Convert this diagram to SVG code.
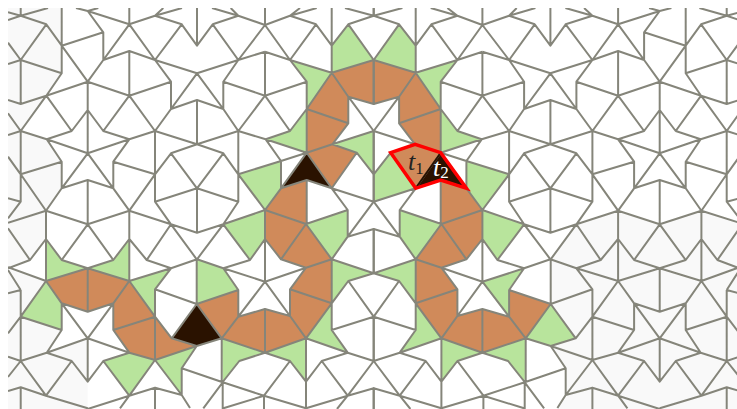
<svg xmlns="http://www.w3.org/2000/svg" xmlns:xlink="http://www.w3.org/1999/xlink" width="737" height="409" viewBox="0 0 737 409">
<style>
.g{fill:#b8e49c}.o{fill:#d08a5a}.k{fill:#2a1200}.s{fill:#f9f9f9}
.e{fill:none;stroke:#85857a;stroke-width:2;stroke-linejoin:round}
.t{font-family:"Liberation Serif",serif;font-style:italic;font-size:26px}
.n{font-family:"Liberation Serif",serif;font-size:17px}
</style>
<defs>
<clipPath id="c"><rect x="8" y="8" width="729" height="401"/></clipPath>
<g id="sym">
<polygon class="g" points="290,60 331.7,72.7 306.7,109 306.7,81.7"/>
<polygon class="g" points="373.7,60 331.7,72.7 331.7,45.7 348.3,24.3"/>
<polygon class="g" points="265.7,139.3 290,131 306.7,109 306.7,152.7"/>
<polygon class="g" points="238.3,174.3 281,161 281,188.3 265,210"/>
<polygon class="g" points="223.3,224.3 265,210 265,239 250,260"/>
<polygon class="g" points="306,224 347.7,210 347.7,236.7 331.7,259.3"/>
<polygon class="g" points="331.7,259.3 373.7,273.3 348.3,281 331.7,303.3"/>
<polygon class="g" points="331.7,303.3 331.7,330 347.7,352.7 306,338.3"/>
<polygon class="g" points="265,352.7 306,338.3 306,381.7 290,361"/>
<polygon class="g" points="221.7,338.3 265,352.7 239.3,361 222.7,382"/>
<polygon class="o" points="331.7,72.7 373.7,60 373.7,104 348.3,96.7"/>
<polygon class="o" points="331.7,72.7 348.3,96.7 348.3,123.3 306.7,109"/>
<polygon class="o" points="306.7,109 348.3,123.3 332.3,144.3 306.7,152.7"/>
<polygon class="o" points="306.7,152.7 332.3,144.3 356.7,152.7 331.7,188.3"/>
<polygon class="o" points="281,188.3 306.7,180 306.3,224 265,210"/>
<polygon class="o" points="265,210 306,224 281,259.3 265,239"/>
<polygon class="o" points="306,224 331.7,259.3 306,267.7 281,259.3"/>
<polygon class="o" points="331.7,259.3 331.7,303.3 290,289.3 306,267.7"/>
<polygon class="o" points="331.7,303.3 306,338.3 290,316 290,289.3"/>
<polygon class="o" points="306,338.3 265,352.7 265,309 290,316"/>
<polygon class="o" points="221.7,338.3 238.3,316.7 265,309 265,352.7"/>
<polygon class="o" points="196.7,304 238.3,290 238.3,316.7 221.7,338.3"/>
<polygon class="k" points="306.7,152.7 331.7,188.3 306.7,180 281,188.3"/>
</g>
<path id="edges" d="M8 12.3L20.7 15.7L46.3 24.3L61.7 45.7M8 20L20.7 15.7L48 8M20.7 8V15.7M46.3 24.3L20.7 60L61.7 73.3L46.3 95.7L20.7 104L8 100M20.7 60V104M8 64L20.7 60L8 42.7M61.7 8V73.3M61.7 45.7L103.3 32.3L87.7 11L76 8M87.7 11L98.3 8M87.7 11L129.3 24.3M103.3 32.3V60L87.7 81.7L61.7 45.7M87.7 81.7L46.3 95.7M87.7 81.7L129.3 95.7L171 81.7L155 60L129.3 51L103.3 60L129.3 24.3L155 60M129.3 51V95.7M87.7 81.7V110M129.3 8V24.3L155 15.7L181.7 24.3L155 60M155 15.7L163.3 8M155 15.7L182 8M181.7 24.3L197 45.7L212.7 24.3L238.3 60L223.3 81.7V109L197 73.3L171 109V81.7M197 8V45.7M212.7 24.3L238.3 15.7L265 25M238.3 15.7L212 8M238.3 15.7L230.7 8M155 60L197 73.3L238.3 60M171 109L197 100L223.3 109L238.3 131L197 144.3L155 131L171 109M197 100V144.3M129.3 95.7L103.3 131L129.3 139.3L155 131L129.3 95.7M87.7 110L103.3 131M87.7 110L71.7 131L46.3 95.7M71.7 131L46.7 139.3L87.7 153.3L129.3 139.3L113.3 161.7V188.3L87.7 180L61.7 188.3V161.7L46.7 139.3M87.7 110V153.3M87.7 153.3L61.7 188.3M87.7 153.3L113.3 188.3M46.3 95.7L20.7 131L46.7 139.3M20.7 131L8 113.3M20.7 131L8 135M20.7 131V201.7L8 198.3M61.7 161.7L20.7 174.3L8 156.7M20.7 174.3L46 210.7M113.3 161.7L155 174.3V131M155 174.3L171 153.3L197 144.3M171 153.3L197 188.3L223.3 153.3L197 144.3M155 174.3V201.7L197 188.3L238.3 201.7V174.3L223.3 153.3M238.3 131V174.3M197 188.3V232.7M113.3 188.3L129.3 210.7L155 174.3M61.7 188.3L46 210.7M87.7 180V224.3M20.7 201.7L8 218.3M238.3 131L265 95.7M238.3 131L265.7 139.3M223.3 81.7L265 95.7M238.3 60L265 51.7M238.3 60L265 25M238.3 174.3L281 161M238.3 174.3L265 210M265 8V25L290 15.7L316 24.3L331.7 45.7L348.3 24.3L373.7 15.7V8M331.7 8V72.7M290 15.7L300 8M290 15.7L316.7 8M348.3 24.3L373.7 60M345 8L373.7 15.7M265 25L290 60L265 51.7M265 51.7V95.7L306.7 81.7L290 60L316 24.3M265 95.7L290 131L306.7 109M306.7 81.7V152.7M290 60L331.7 72.7L373.7 60V104L348.3 96.7L331.7 72.7L306.7 109L348.3 123.3V96.7M348.3 96.7L373.7 131M348.3 123.3L332.3 144.3M373.7 131L332.3 144.3L306.7 152.7M332.3 144.3L356.7 152.7L331.7 188.3L306.7 152.7L281 188.3L306.7 180L331.7 188.3M356.7 152.7L373.7 174.3V131M373.7 174.3V201.7L331.7 188.3M331.7 188.3L347.7 210V236.7M373.7 201.7L347.7 236.7M265.7 139.3L290 131M265.7 139.3L306.7 152.7M265.7 139.3L281 161L306.7 152.7M281 161V188.3L265 210M306.7 180V224M8 222.7L46 210.7L87.7 224.3L129.3 210.7L171 224.3L197 232.7L223.3 224.3L238.3 201.7M155 201.7L171 224.3M46 210.7V281M129.3 210.7V281M87.7 224.3L61.7 260L46 239M87.7 224.3L113.3 260L129.3 239M61.7 260L87.7 268.3L113.3 260M46 239L30 260L8 268.3M30 260L8 228.3M8 267.3L46 281M46 281L87.7 268.3L129.3 281L171 268.3L197 259.3L223.3 268.3L238.3 290V316.7L221.7 338.3M87.7 268.3V311.7M46 281L61.7 303.3L87.7 311.7L113.3 303.3L129.3 281L155 316.7M46 281L20.7 316.7L61.7 330V303.3M113.3 303.3V330L155 316.7V360L129.3 352.7L113.3 330M155 316.7L171.7 338.3L196.7 346L155 360M171.7 338.3L196.7 304L221.7 338.3L196.7 346M196.7 304L155 289.3L171 268.3M155 289.3V316.7M196.7 304V259.3L171 224.3M197 259.3L223.3 224.3M196.7 304L238.3 290M129.3 239L146.7 260L171 268.3M171 224.3L146.7 260M223.3 224.3L265 210M223.3 224.3L250 260L265 239V210M250 260L223.3 268.3M223.3 268.3L265 281.7M265 239V281.7M265 239L281 259.3L306 267.7M265 210L306 224L331.7 259.3L306 267.7M306 224L281 259.3M306 224L347.7 210M265 281.7L306 267.7L290 289.3V316M265 281.7L290 316M265 281.7L238.3 316.7M290 316L265 309V352.7M265 309L238.3 316.7M290 289.3L331.7 303.3M331.7 259.3V330M290 316L306 338.3L331.7 303.3M221.7 338.3L265 352.7L306 338.3M221.7 338.3V382M306 338.3V381.7L290 361L265 352.7L239.3 361L222.7 382M306 338.3L347.7 352.7M347.7 236.7L373.7 229V273.3M373.7 316.7V361M331.7 259.3L373.7 273.3L348.3 281L331.7 303.3M347.7 236.7L331.7 259.3M348.3 281L373.7 316.7L331.7 330L347.7 352.7L373.7 361M306 381.7L321.7 361L347.7 352.7M321.7 361L347.7 395.7L373.7 361M347.7 395.7L373.7 388.3V409M347.7 395.7L306 408.3M347.7 395.7L337 409M306 381.7V409M290 361L264 395.7L222.7 382.3M264 395.7V409M264 395.7L306 408.3M264 395.7L223.3 408.3M222.7 382.3V409M222.7 382.3L203.3 408.3M196.7 346L181.7 368.3V395L155 360M181.7 368.3L222.7 382.3M181.7 395L190 408M155 360L129.3 395.7L103.3 361L129.3 352.7M129.3 395.7L155 387.7V409M155 387.7L181.7 395M129.3 395.7L120 408.3M129.3 395.7L87.7 409M87.7 338.3L129.3 352.7M87.7 338.3L46.7 352.7L61.7 330M61.7 303.3L87.7 338.3L113.3 303.3M87.7 338.3V381.7M46.7 352.7L71.7 361L87.7 381.7L103.3 361M71.7 361L46 395.7L20.7 361L46.7 352.7M20.7 316.7V361M20.7 316.7L8 333.3M20.7 361L8 356.7M20.7 361L8 377M46 395.7L87.7 408.3M8 391L20.7 387.3L46 395.7M20.7 387.3V409M20.7 290L8 293.3M20.7 290V316.7M8 270L20.7 290"/>
</defs>
<rect width="737" height="409" fill="#fff"/>
<g clip-path="url(#c)">
<g id="shade">
<polygon class="s" points="8,8 61.7,8 61.7,73.3 46.3,95.7 20.7,131 46.7,139.3 61.7,161.7 61.7,188.3 46,210.7 46,239 30,260 8,268 46,281 20.7,316.7 61.7,330 46.7,352.7 87.7,338.3 87.7,409 8,409"/>
<polygon class="s" points="550.3,259.3 577,224.3 618,210.7 659.7,224.3 702,210.7 737,223.3 737,409 557,409 567,396.7 567,370 550.3,346.7"/>
</g>
<g id="tiles">
<use xlink:href="#sym" href="#sym"/>
<use xlink:href="#sym" href="#sym" transform="translate(747.4 0) scale(-1 1)"/>
<polygon class="g" points="46,281 46,239 61.7,260 87.7,268.3"/>
<polygon class="g" points="129.3,239 129.3,281 87.7,268.3 113.3,260"/>
<polygon class="g" points="46,281 61.7,303.3 61.7,330 20.7,316.7"/>
<polygon class="g" points="129.3,281 171,268.3 155,289.3 155,316.7"/>
<polygon class="g" points="196.7,259.3 223.3,268.3 238.3,290 196.7,304"/>
<polygon class="g" points="129.3,352.7 155,360 129.3,395.7 103.3,361"/>
<polygon class="g" points="155,360 196.7,346 181.7,368.3 181.7,395"/>
<polygon class="g" points="332.3,144.3 373.7,131 373.7,174.3 356.7,152.7"/>
<polygon class="g" points="390.7,152.7 373.7,174.3 373.7,201.7 415.7,188.3"/>
<polygon class="g" points="482,282 523.7,268.3 508.7,289.3 508.7,317.3"/>
<polygon class="g" points="550.7,304 575.7,338.3 550.7,346 525.7,338.3"/>
<polygon class="o" points="46,281 87.7,268.3 87.7,311.7 61.7,303.3"/>
<polygon class="o" points="87.7,268.3 129.3,281 113.3,303.3 87.7,311.7"/>
<polygon class="o" points="129.3,281 155,316.7 113.3,330 113.3,303.3"/>
<polygon class="o" points="113.3,330 155,316.7 155,360 129.3,352.7"/>
<polygon class="o" points="155,316.7 171.7,338.3 196.7,346 155,360"/>
<polygon class="k" points="196.7,304 221.7,338.3 196.7,346 171.7,338.3"/>
</g>
<g id="connectors">
<use xlink:href="#edges" href="#edges" class="e"/>
<use xlink:href="#edges" href="#edges" class="e" transform="translate(747.4 0) scale(-1 1)"/>
</g>
</g>
<g id="t1-t2">
<path d="M415.7 188.3L440.7 152.7" fill="none" stroke="#2a1200" stroke-width="2"/>
<polygon points="390.7,152.7 415.1,144.3 440.7,152.7 466.4,188.3 440.7,180 415.7,188.3" fill="none" stroke="#f00" stroke-width="3.5"/>
<text x="408" y="169.5" class="t" fill="#222">t<tspan class="n" dy="4" font-style="normal">1</tspan></text>
<text x="433" y="176" class="t" fill="#fff">t<tspan class="n" dy="2" font-style="normal">2</tspan></text>
</g>
</svg>
